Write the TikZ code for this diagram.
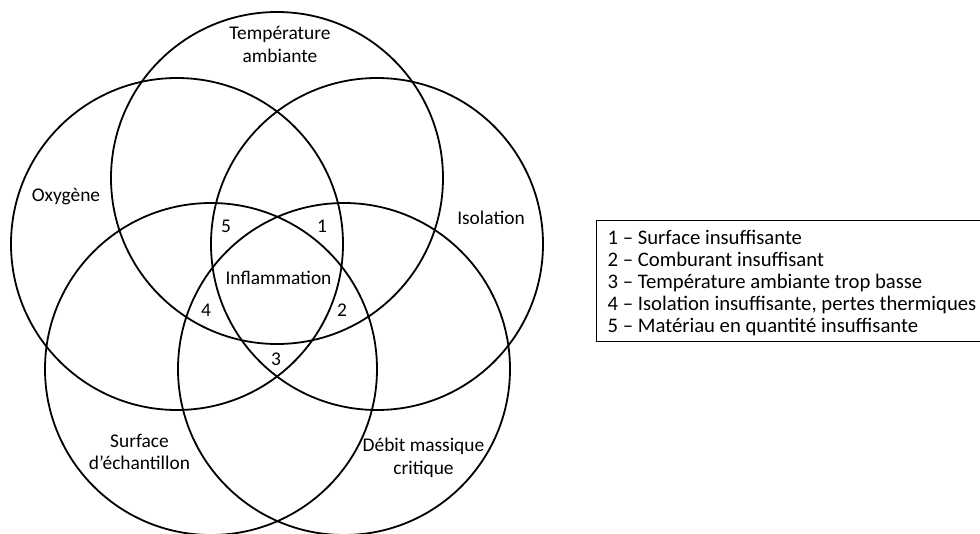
\documentclass[tikz,border=0pt]{standalone}
\usepackage{fontspec}
\setmainfont{Carlito}
\begin{document}
\begin{tikzpicture}[x=1pt,y=-1pt,
  ring/.style={line width=1.8pt},
  lab/.style={font=\fontsize{19.4}{22.5}\selectfont, align=center, inner sep=0pt},
  leg/.style={font=\fontsize{20.7}{22}\selectfont, align=left, inner sep=0pt, anchor=west}]
\useasboundingbox (0,0) rectangle (980,533);
\fill[white] (0,0) rectangle (980,533);
% circles
\draw[ring] (277,178) circle[radius=166pt];
\draw[ring] (177,244) circle[radius=166pt];
\draw[ring] (377,244) circle[radius=166pt];
\draw[ring] (211,369) circle[radius=166pt];
\draw[ring] (344,369) circle[radius=166pt];
% labels
\node[lab] (temp) at (280,44.5) {Température\\ambiante};
\node[lab] (oxy) at (66,196.5) {Oxygène};
\node[lab] (iso) at (491,217.5) {Isolation};
\node[lab] (surf) at (139.5,452) {Surface\\d’échantillon};
\node[lab] (debit) at (423.5,458) {Débit massique\\critique};
\node[lab] (infl) at (278.5,277.5) {Inflammation};
\node[lab] (n5) at (226,226) {5};
\node[lab] (n1) at (322,226) {1};
\node[lab] (n4) at (206,310) {4};
\node[lab] (n2) at (342,310) {2};
\node[lab] (n3) at (276,359.5) {3};
% legend
\draw[line width=0.9pt] (596,220) rectangle (995,341);
\node[leg] (legend) at (607.5,283) {1 – Surface insuffisante\\2 – Comburant insuffisant\\3 – Température ambiante trop basse\\4 – Isolation insuffisante, pertes thermiques\\5 – Matériau en quantité insuffisante};
\end{tikzpicture}
\end{document}
